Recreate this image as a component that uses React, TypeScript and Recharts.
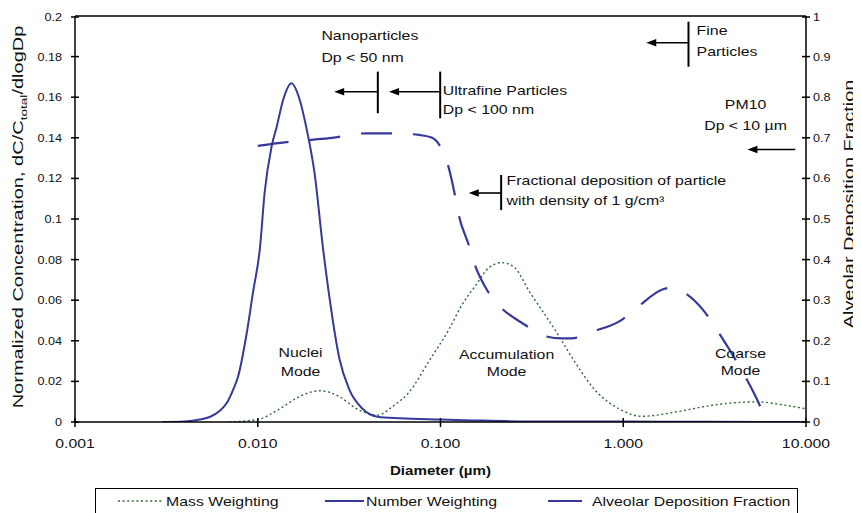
import React from 'react';
import { LineChart, Line, XAxis, YAxis, ReferenceLine, ReferenceDot, Legend } from 'recharts';

const FONT = '"Liberation Sans", Arial, Helvetica, sans-serif';
const NAVY = '#34399a';
const GREEN = '#2f6a2f';

// Number-weighted size distribution: diameter (µm) -> dC/Ctotal/dlogDp
const numberDiameters = [0.003, 0.004, 0.0048, 0.0055, 0.0062, 0.00675, 0.0073, 0.0078, 0.0087, 0.0094, 0.0103, 0.0109, 0.0119, 0.0127, 0.0138, 0.0153, 0.0168, 0.0184, 0.0205, 0.0227, 0.0248, 0.028, 0.0317, 0.0372, 0.0452, 0.06, 0.1, 0.15, 0.3, 1, 3, 10];
const numberValues = [0, 0.0003, 0.0012, 0.0026, 0.0055, 0.0092, 0.0155, 0.0223, 0.0437, 0.0634, 0.0864, 0.1128, 0.1356, 0.1455, 0.159, 0.1669, 0.16, 0.1455, 0.122, 0.0864, 0.06, 0.031, 0.016, 0.0068, 0.0026, 0.0018, 0.0012, 0.0008, 0.0003, 0.0002, 0.0001, 0];

// Mass-weighted size distribution
const massDiameters = [0.007, 0.0085, 0.0103, 0.0132, 0.0169, 0.0218, 0.028, 0.0345, 0.0452, 0.0557, 0.0673, 0.0865, 0.111, 0.131, 0.155, 0.1834, 0.217, 0.255, 0.303, 0.424, 0.521, 0.7, 0.977, 1.25, 1.99, 2.86, 4.2, 5.42, 7.4, 10];
const massValues = [0, 0.0005, 0.0015, 0.0065, 0.0125, 0.0154, 0.0125, 0.0067, 0.0034, 0.0082, 0.0147, 0.03, 0.0455, 0.0577, 0.067, 0.0759, 0.0785, 0.076, 0.065, 0.0453, 0.0322, 0.0158, 0.0059, 0.0028, 0.0051, 0.0078, 0.0096, 0.0099, 0.0085, 0.0065];

// Alveolar deposition fraction (right axis)
const depositionDiameters = [0.01, 0.0149, 0.0247, 0.0391, 0.0569, 0.0762, 0.09, 0.102, 0.1111, 0.1209, 0.1259, 0.1428, 0.152, 0.1796, 0.208, 0.2907, 0.358, 0.46, 0.5216, 0.6703, 0.977, 1.205, 1.65, 1.87, 2.12, 2.78, 3.21, 4.22, 5.31, 5.9, 6.15];
const depositionValues = [0.68, 0.69, 0.699, 0.711, 0.711, 0.707, 0.7, 0.67, 0.625, 0.551, 0.51, 0.436, 0.395, 0.325, 0.288, 0.239, 0.214, 0.206, 0.206, 0.222, 0.251, 0.284, 0.327, 0.331, 0.321, 0.272, 0.231, 0.145, 0.062, 0.017, 0];

const xTicks = [0.001, 0.01, 0.1, 1, 10];
const leftTicks = [0, 0.02, 0.04, 0.06, 0.08, 0.1, 0.12, 0.14, 0.16, 0.18, 0.2];
const rightTicks = [0, 0.1, 0.2, 0.3, 0.4, 0.5, 0.6, 0.7, 0.8, 0.9, 1];

const seriesNames = ['Mass Weighting', 'Number Weighting', 'Alveolar Deposition Fraction'];

// Size-class notes, placed in data units (diameter, left-axis value)
const notes = [
  { d: 0.0223, v: 0.1906, lines: ['Nanoparticles', 'Dp < 50 nm'], gap: 22, anchor: 'start' },
  { d: 0.103, v: 0.1635, lines: ['Ultrafine Particles', 'Dp < 100 nm'], gap: 19, anchor: 'start' },
  { d: 0.23, v: 0.1192, lines: ['Fractional deposition of particle', 'with density of 1 g/cm\u00B3'], gap: 20, anchor: 'start' },
  { d: 2.52, v: 0.1931, lines: ['Fine', 'Particles'], gap: 21, anchor: 'start' },
  { d: 4.67, v: 0.1567, lines: ['PM10', 'Dp < 10 \u00B5m'], gap: 21.5, anchor: 'middle' },
  { d: 0.01715, v: 0.0345, lines: ['Nuclei', 'Mode'], gap: 19, anchor: 'middle' },
  { d: 0.23, v: 0.0335, lines: ['Accumulation', 'Mode'], gap: 17, anchor: 'middle' },
  { d: 4.38, v: 0.0338, lines: ['Coarse', 'Mode'], gap: 17, anchor: 'middle' },
];
const brackets = [
  { d: 0.0454, from: 0.1726, to: 0.1521 },
  { d: 0.0996, from: 0.1726, to: 0.1496 },
  { d: 0.2147, from: 0.1217, to: 0.1044 },
  { d: 2.275, from: 0.1972, to: 0.175 },
];
const arrows = [
  { tip: 0.0262, tail: 0.0454, v: 0.1627 },
  { tip: 0.0523, tail: 0.0996, v: 0.1627 },
  { tip: 0.1428, tail: 0.2147, v: 0.1128 },
  { tip: 1.336, tail: 2.275, v: 0.1868 },
  { tip: 4.78, tail: 8.73, v: 0.1342 },
];

const toRows = (d: number[], v: number[]) => d.map((x, i) => ({ d: x, v: v[i] }));
const numberRows = toRows(numberDiameters, numberValues);
const massRows = toRows(massDiameters, massValues);
const depositionRows = toRows(depositionDiameters, depositionValues);

type TxtProps = {
  x: number; y: number; children: React.ReactNode; size?: number; sx?: number;
  anchor?: string; weight?: string | number; rotate?: number;
};
function Txt({ x, y, children, size = 13, sx = 1.22, anchor = 'start', weight = 'normal', rotate = 0 }: TxtProps) {
  const rot = rotate ? ` rotate(${rotate})` : '';
  return (
    <text
      transform={`translate(${x},${y})${rot} scale(${sx},1)`}
      textAnchor={anchor as any}
      fontSize={size}
      fontFamily={FONT}
      fontWeight={weight as any}
      fill="#111"
    >
      {children}
    </text>
  );
}

const fmtLeft = (v: number) => `${+v.toFixed(2)}`;
const fmtRight = (v: number) => `${+v.toFixed(1)}`;
const fmtX = (v: number) => v.toFixed(3);

const XTick = (p: any) => (
  <g>
    <line x1={p.x} x2={p.x} y1={p.y - 4} y2={p.y + 5} stroke="#000" strokeWidth={1.5} />
    <Txt x={p.x} y={p.y + 26} size={13.5} sx={1.17} anchor="middle">{fmtX(p.payload.value)}</Txt>
  </g>
);
const LeftTick = (p: any) => (
  <g>
    <line x1={p.x - 4} x2={p.x + 4} y1={p.y} y2={p.y} stroke="#000" strokeWidth={1.5} />
    <Txt x={p.x - 13} y={p.y + 4} size={11.5} sx={1.1} anchor="end">{fmtLeft(p.payload.value)}</Txt>
  </g>
);
const RightTick = (p: any) => (
  <g>
    <line x1={p.x - 4} x2={p.x + 4} y1={p.y} y2={p.y} stroke="#000" strokeWidth={1.5} />
    <Txt x={p.x + 7} y={p.y + 4} size={11.5} sx={1.1} anchor="start">{fmtRight(p.payload.value)}</Txt>
  </g>
);

const XTitle = (p: any) => {
  const vb = p.viewBox || { x: 67, y: 414, width: 731 };
  return (
    <Txt x={vb.x + vb.width / 2} y={vb.y + 53} size={13.5} sx={1.12} anchor="middle" weight="bold">
      {'Diameter (\u00B5m)'}
    </Txt>
  );
};
const LeftTitle = (p: any) => {
  const vb = p.viewBox || { x: 0, y: 8, height: 406 };
  return (
    <text
      transform={`translate(${vb.x + 15},${vb.y + vb.height / 2 - 2}) rotate(-90) scale(1.43,1)`}
      textAnchor="middle"
      fontSize={14}
      fontFamily={FONT}
      fill="#111"
    >
      Normalized Concentration, dC/C
      <tspan fontSize={9.5} dy={4}>total</tspan>
      <tspan dy={-4}>/dlogDp</tspan>
    </text>
  );
};
const RightTitle = (p: any) => {
  const vb = p.viewBox || { x: 798, y: 8, height: 406 };
  return (
    <Txt x={vb.x + 48} y={vb.y + 188} size={14} sx={1.42} anchor="middle" rotate={-90}>
      Alveolar Deposition Fraction
    </Txt>
  );
};

const noteShape = (lines: string[], gap: number, anchor: string) => (p: any) => (
  <g>
    {lines.map((t, i) => (
      <Txt key={i} x={p.cx} y={p.cy + i * gap + 4.7} anchor={anchor}>{t}</Txt>
    ))}
  </g>
);

const arrowShape = (p: any) => {
  const { x1, y1, x2, y2 } = p;
  const dir = Math.sign(x2 - x1) || 1;
  return (
    <g>
      <line x1={x1 + dir * 6} y1={y1} x2={x2} y2={y2} stroke="#000" strokeWidth={1.6} />
      <polygon points={`${x1},${y1} ${x1 + dir * 10},${y1 - 3.8} ${x1 + dir * 10},${y1 + 3.8}`} fill="#000" />
    </g>
  );
};

const legendSamples = [
  { x1: 22, x2: 68, tx: 70, color: GREEN, dash: '2 2.6', width: 1.6 },
  { x1: 229, x2: 268, tx: 270, color: NAVY, dash: undefined, width: 2 },
  { x1: 452, x2: 486, tx: 496, color: NAVY, dash: undefined, width: 2.2 },
];

const LegendBox = () => (
  <div style={{ width: 703, height: 30, border: '1.5px solid #000', boxSizing: 'border-box', background: '#fff' }}>
    <svg width={700} height={27} style={{ display: 'block' }}>
      {seriesNames.map((name, i) => {
        const s = legendSamples[i];
        return (
          <g key={name}>
            <line x1={s.x1} x2={s.x2} y1={12} y2={12} stroke={s.color} strokeWidth={s.width} strokeDasharray={s.dash} />
            <Txt x={s.tx} y={16.5}>{name}</Txt>
          </g>
        );
      })}
    </svg>
  </div>
);

export default function App() {
  return (
    <div style={{ fontFamily: FONT }}>
      <LineChart width={853} height={505} margin={{ top: 8, right: 0, bottom: 0, left: 0 }}>
        <XAxis
          dataKey="d"
          type="number"
          scale="log"
          domain={[0.001, 10]}
          ticks={xTicks}
          allowDataOverflow
          height={61}
          tickSize={0}
          tickMargin={0}
          tickLine={false}
          tick={<XTick />}
          axisLine={{ stroke: '#000', strokeWidth: 1.5 }}
          label={{ content: XTitle }}
        />
        <YAxis
          yAxisId="left"
          orientation="left"
          width={67}
          domain={[0, 0.2]}
          ticks={leftTicks}
          allowDataOverflow
          tickSize={0}
          tickMargin={0}
          tickLine={false}
          tick={<LeftTick />}
          axisLine={{ stroke: '#000', strokeWidth: 1.5 }}
          label={{ content: LeftTitle }}
        />
        <YAxis
          yAxisId="right"
          orientation="right"
          width={55}
          domain={[0, 1]}
          ticks={rightTicks}
          allowDataOverflow
          tickSize={0}
          tickMargin={0}
          tickLine={false}
          tick={<RightTick />}
          axisLine={{ stroke: '#000', strokeWidth: 1.5 }}
          label={{ content: RightTitle }}
        />
        <ReferenceLine yAxisId="left" y={0.2} stroke="#000" strokeWidth={1.5} ifOverflow="visible" />

        <Line
          yAxisId="left"
          data={massRows}
          dataKey="v"
          name={seriesNames[0]}
          type="monotone"
          stroke={GREEN}
          strokeWidth={1.4}
          strokeDasharray="2 2.6"
          dot={false}
          activeDot={false}
          isAnimationActive={false}
        />
        <Line
          yAxisId="left"
          data={numberRows}
          dataKey="v"
          name={seriesNames[1]}
          type="monotone"
          stroke={NAVY}
          strokeWidth={2}
          dot={false}
          activeDot={false}
          isAnimationActive={false}
        />
        <Line
          yAxisId="right"
          data={depositionRows}
          dataKey="v"
          name={seriesNames[2]}
          type="monotone"
          stroke={NAVY}
          strokeWidth={2.2}
          strokeDasharray="31 21"
          dot={false}
          activeDot={false}
          isAnimationActive={false}
        />

        {brackets.map((b, i) => (
          <ReferenceLine
            key={`b${i}`}
            yAxisId="left"
            segment={[{ x: b.d, y: b.from }, { x: b.d, y: b.to }]}
            stroke="#000"
            strokeWidth={2}
            ifOverflow="visible"
          />
        ))}
        {arrows.map((a, i) => (
          <ReferenceLine
            key={`a${i}`}
            yAxisId="left"
            segment={[{ x: a.tip, y: a.v }, { x: a.tail, y: a.v }]}
            shape={arrowShape}
            ifOverflow="visible"
          />
        ))}
        {notes.map((n, i) => (
          <ReferenceDot
            key={`n${i}`}
            yAxisId="left"
            x={n.d}
            y={n.v}
            r={0}
            ifOverflow="visible"
            shape={noteShape(n.lines, n.gap, n.anchor)}
          />
        ))}

        <Legend content={<LegendBox />} wrapperStyle={{ top: 480, left: 87, width: 703, height: 30 }} />
      </LineChart>
    </div>
  );
}
